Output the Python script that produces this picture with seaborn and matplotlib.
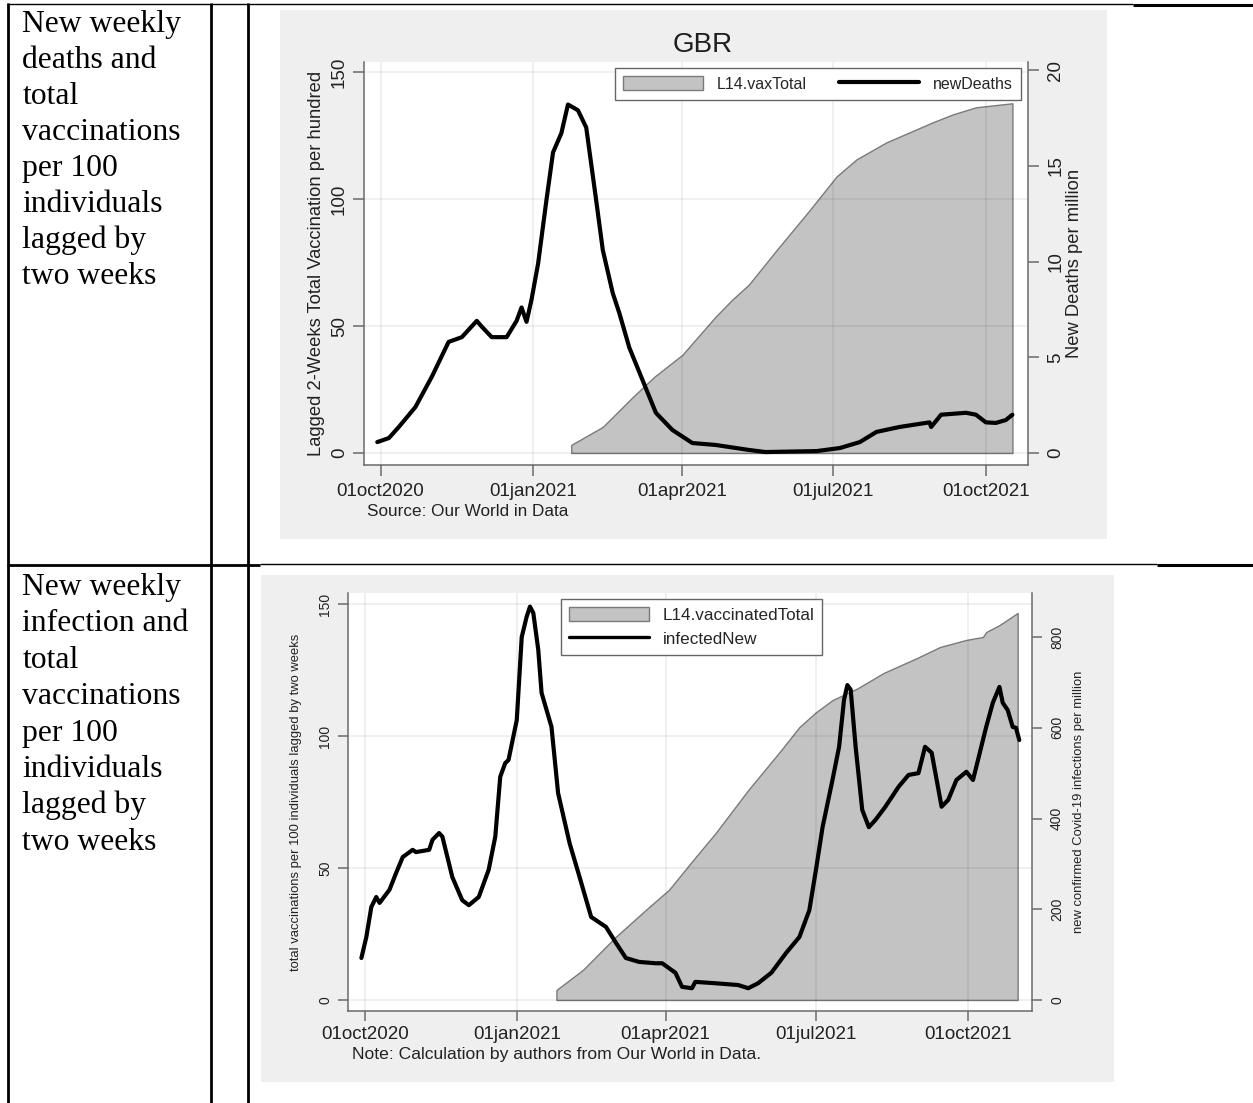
import pandas as pd
import seaborn as sns
import matplotlib.pyplot as plt
from matplotlib.patches import Rectangle, Patch
from matplotlib.lines import Line2D

W, H = 1253, 1103

# ---- donnees graphique 1 (GBR, deces) ----
vax_top_dates = ["2021-01-24", "2021-02-12", "2021-03-02", "2021-03-15", "2021-04-01",
                 "2021-04-21", "2021-05-01", "2021-05-11", "2021-05-28", "2021-06-17",
                 "2021-07-03", "2021-07-15", "2021-08-02", "2021-08-30", "2021-09-11",
                 "2021-09-25", "2021-10-17"]
vax_top_vals = [3.2, 10.3, 22, 30, 38.7, 53.7, 60.4, 66.3, 80.1, 95.9,
                109, 115.7, 122.4, 130.3, 133.4, 136.2, 137.8]

deaths_dates = ["2020-09-29", "2020-10-06", "2020-10-12", "2020-10-22", "2020-11-01",
                "2020-11-11", "2020-11-19", "2020-11-28", "2020-12-01", "2020-12-07",
                "2020-12-16", "2020-12-22", "2020-12-25", "2020-12-28", "2020-12-31",
                "2021-01-04", "2021-01-09", "2021-01-13", "2021-01-18", "2021-01-22",
                "2021-01-28", "2021-02-02", "2021-02-08", "2021-02-12", "2021-02-18",
                "2021-02-22", "2021-02-28", "2021-03-08", "2021-03-16", "2021-03-26",
                "2021-04-07", "2021-04-21", "2021-05-11", "2021-05-21", "2021-06-21",
                "2021-07-05", "2021-07-17", "2021-07-27", "2021-08-10", "2021-08-28",
                "2021-08-29", "2021-09-04", "2021-09-19", "2021-09-25", "2021-10-01",
                "2021-10-07", "2021-10-13", "2021-10-17"]
deaths_vals = [0.57, 0.78, 1.36, 2.4, 4.0, 5.8, 6.05, 6.9, 6.6, 6.05,
               6.05, 6.9, 7.6, 6.85, 8.0, 9.9, 13.2, 15.7, 16.7, 18.2,
               17.9, 17.0, 13.2, 10.6, 8.35, 7.3, 5.5, 3.8, 2.1, 1.2,
               0.52, 0.42, 0.16, 0.05, 0.1, 0.26, 0.57, 1.1, 1.36, 1.6,
               1.36, 2.0, 2.1, 2.0, 1.6, 1.57, 1.72, 2.0]

# ---- donnees graphique 2 (infections) ----
vax_bot_dates = ["2021-01-25", "2021-02-10", "2021-03-02", "2021-03-22", "2021-04-03",
                 "2021-04-19", "2021-05-01", "2021-05-21", "2021-06-10", "2021-06-21",
                 "2021-07-01", "2021-07-11", "2021-07-26", "2021-08-11", "2021-08-31",
                 "2021-09-14", "2021-09-30", "2021-10-10", "2021-10-12", "2021-10-20",
                 "2021-10-31"]
vax_bot_vals = [3.8, 11.4, 24, 35.2, 41.7, 54, 63, 79.5, 94.7, 103.4,
                109, 113.6, 118, 123.9, 129.5, 133.7, 136.4, 137.5, 139.4, 142, 146.6]

inf_dates = ["2020-09-29", "2020-10-02", "2020-10-05", "2020-10-08", "2020-10-10",
             "2020-10-16", "2020-10-20", "2020-10-24", "2020-10-30", "2020-11-01",
             "2020-11-09", "2020-11-11", "2020-11-15", "2020-11-17", "2020-11-23",
             "2020-11-29", "2020-12-03", "2020-12-09", "2020-12-15", "2020-12-19",
             "2020-12-22", "2020-12-25", "2020-12-27", "2021-01-01", "2021-01-04",
             "2021-01-07", "2021-01-09", "2021-01-11", "2021-01-14", "2021-01-16",
             "2021-01-22", "2021-01-26", "2021-02-02", "2021-02-08", "2021-02-15",
             "2021-02-24", "2021-03-02", "2021-03-08", "2021-03-16", "2021-03-26",
             "2021-03-30", "2021-04-07", "2021-04-11", "2021-04-17", "2021-04-19",
             "2021-05-01", "2021-05-15", "2021-05-21", "2021-05-27", "2021-06-04",
             "2021-06-13", "2021-06-21", "2021-06-27", "2021-07-01", "2021-07-05",
             "2021-07-11", "2021-07-15", "2021-07-18", "2021-07-20", "2021-07-22",
             "2021-07-25", "2021-07-29", "2021-08-02", "2021-08-06", "2021-08-12",
             "2021-08-20", "2021-08-26", "2021-09-01", "2021-09-05", "2021-09-09",
             "2021-09-15", "2021-09-19", "2021-09-24", "2021-09-30", "2021-10-04",
             "2021-10-06", "2021-10-12", "2021-10-16", "2021-10-20", "2021-10-22",
             "2021-10-25", "2021-10-28", "2021-10-30", "2021-11-01"]
inf_vals = [92.6, 139, 205, 227, 214, 243, 280, 315, 331, 326,
            331, 353, 368, 360, 271, 220, 209, 227, 287, 360,
            492, 522, 529, 617, 800, 845, 867, 853, 772, 677,
            602, 456, 345, 271, 183, 161, 126, 92.6, 84, 81,
            81, 60, 29, 26, 40, 37, 33, 26, 37, 60,
            104, 139, 198, 287, 381, 485, 558, 662, 694, 684,
            558, 419, 381, 397, 426, 470, 496, 500, 558, 545,
            426, 441, 485, 503, 485, 514, 602, 655, 690, 655,
            639, 602, 600, 573]

tick_dates = ["2020-10-01", "2021-01-01", "2021-04-01", "2021-07-01", "2021-10-01"]
texte_haut = ["New weekly", "deaths and", "total", "vaccinations", "per 100",
              "individuals", "lagged by", "two weeks"]
texte_bas = ["New weekly", "infection and", "total", "vaccinations", "per 100",
             "individuals", "lagged by", "two weeks"]

sns.set_theme(style="ticks")
plt.rcParams['font.family'] = ['Liberation Sans', 'DejaVu Sans']
GRIS_AXE = "#6a6a6a"
TXT = "#222222"

fig = plt.figure(figsize=(W / 100, H / 100), dpi=100)
fig.patch.set_facecolor("white")


def fx(x):
    return x / W


def fy(y):
    return 1 - y / H


def rect_px(x0, y0, x1, y1):
    return [fx(x0), fy(y1), (x1 - x0) / W, (y1 - y0) / H]


def ligne(x0, y0, x1, y1, lw):
    fig.add_artist(Line2D([fx(x0), fx(x1)], [fy(y0), fy(y1)], transform=fig.transFigure,
                          color="black", lw=lw, solid_capstyle="butt"))


# tableau
for xv in [8, 211, 248]:
    ligne(xv, 3, xv, H, 2.0)
ligne(7, 4, 1133, 4, 1.0)
ligne(1133, 5, W, 5, 2.2)
ligne(7, 565, 260, 565, 2.0)
ligne(260, 564, 1157, 564, 1.0)
ligne(1157, 565, W, 565, 2.2)

for i, t in enumerate(texte_haut):
    fig.text(fx(22.5), fy(32 + i * 36.0), t, fontsize=22.8, family=['Liberation Serif', 'DejaVu Serif'],
             va="baseline", ha="left", color="black")
for i, t in enumerate(texte_bas):
    fig.text(fx(22.5), fy(595 + i * 36.4), t, fontsize=22.8, family=['Liberation Serif', 'DejaVu Serif'],
             va="baseline", ha="left", color="black")

# fonds gris Stata
fig.add_artist(Rectangle((fx(280), fy(539)), (1107 - 280) / W, (539 - 10) / H,
                         transform=fig.transFigure, facecolor="#efefef", edgecolor="none", zorder=-1))
fig.add_artist(Rectangle((fx(261), fy(1082)), (1114 - 261) / W, (1082 - 575) / H,
                         transform=fig.transFigure, facecolor="#efefef", edgecolor="none", zorder=-1))


def habiller(ax, axr, xlim, ylim, ylim_r, yticks_r, tick_fs, tick_len, xpad, ypad, rpad):
    ax.set_xlim(pd.Timestamp("2020-10-01") + pd.Timedelta(days=xlim[0]),
                pd.Timestamp("2020-10-01") + pd.Timedelta(days=xlim[1]))
    ax.set_ylim(*ylim)
    axr.set_ylim(*ylim_r)
    td = pd.to_datetime(tick_dates)
    ax.set_xticks(td, [d.strftime("%d%b%Y").lower() for d in td])
    ax.set_yticks([0, 50, 100, 150], ["0", "50", "100", "150"], rotation=90, va="center",
                  fontsize=tick_fs[1])
    axr.set_yticks(yticks_r, [str(v) for v in yticks_r], rotation=90, va="center",
                   fontsize=tick_fs[1])
    ax.tick_params(axis="x", labelsize=tick_fs[0], length=tick_len, width=1.1, color=GRIS_AXE,
                   labelcolor=TXT, pad=xpad)
    ax.tick_params(axis="y", length=tick_len, width=1.1, color=GRIS_AXE, labelcolor=TXT, pad=ypad)
    axr.tick_params(axis="y", length=tick_len, width=1.1, color=GRIS_AXE, labelcolor=TXT, pad=rpad)
    ax.set_axisbelow(False)
    ax.grid(True, color="black", alpha=0.07, lw=1.2)
    for s in ["top", "right"]:
        ax.spines[s].set_visible(False)
    for s in ["top", "left", "bottom"]:
        axr.spines[s].set_visible(False)
    for s in ["left", "bottom"]:
        ax.spines[s].set_color(GRIS_AXE)
        ax.spines[s].set_linewidth(1.1)
    axr.spines["right"].set_color(GRIS_AXE)
    axr.spines["right"].set_linewidth(1.1)
    ax.set_xlabel("")


# ---- graphique 1 ----
ax1 = fig.add_axes(rect_px(364, 62, 1028, 465))
ax1.set_facecolor("white")
vax1 = pd.DataFrame({"date": pd.to_datetime(vax_top_dates), "vax": vax_top_vals})
ax1.fill_between(vax1["date"], 0, vax1["vax"], facecolor="#c3c3c3", edgecolor="#7a7a7a", lw=1, zorder=1)
ax1r = ax1.twinx()
morts = pd.DataFrame({"date": pd.to_datetime(deaths_dates), "newDeaths": deaths_vals})
sns.lineplot(data=morts, x="date", y="newDeaths", ax=ax1r, color="black", linewidth=3.0, estimator=None)
habiller(ax1, ax1r, (-10.0, 390.4), (-4.73, 154.06), (-0.627, 20.42), [0, 5, 10, 15, 20],
         (13.5, 13.5), 8, 5, 3.6, 6.0)
ax1.set_ylabel("Lagged 2-Weeks Total Vaccination per hundred", fontsize=13.2, color=TXT)
ax1.yaxis.set_label_coords((325 - 364) / 664, 0.5)
ax1r.set_ylabel("New Deaths per million", fontsize=13.2, color=TXT)
ax1r.yaxis.set_label_coords((1066 - 364) / 664, 0.5)
fig.text(fx(703), fy(45), "GBR", fontsize=20, ha="center", va="center", color="#1e1e1e")
fig.text(fx(367), fy(511), "Source: Our World in Data", fontsize=12.3, ha="left", va="center", color=TXT)
poignees1 = [Patch(facecolor="#c3c3c3", edgecolor="#7a7a7a", label="L14.vaxTotal"),
             Line2D([], [], color="black", lw=3, label="newDeaths")]
leg1 = ax1r.legend(handles=poignees1, ncol=2, loc="upper left", bbox_to_anchor=(fx(615), fy(68)),
                   bbox_transform=fig.transFigure, borderaxespad=0, fontsize=11.5, frameon=True,
                   fancybox=False, edgecolor="#666666", framealpha=1, handlelength=5.0,
                   handleheight=1.0, handletextpad=0.9, columnspacing=2.0, borderpad=0.5)
leg1.get_frame().set_linewidth(1.0)

# ---- graphique 2 ----
ax2 = fig.add_axes(rect_px(348, 593, 1032, 1011))
ax2.set_facecolor("white")
vax2 = pd.DataFrame({"date": pd.to_datetime(vax_bot_dates), "vax": vax_bot_vals})
ax2.fill_between(vax2["date"], 0, vax2["vax"], facecolor="#c3c3c3", edgecolor="#7a7a7a", lw=1, zorder=1)
ax2r = ax2.twinx()
infect = pd.DataFrame({"date": pd.to_datetime(inf_dates), "infectedNew": inf_vals})
sns.lineplot(data=infect, x="date", y="infectedNew", ax=ax2r, color="black", linewidth=3.0, estimator=None)
habiller(ax2, ax2r, (-10.1, 403.7), (-4.17, 154.17), (-24.2, 897.0), [0, 200, 400, 600, 800],
         (13.5, 10.0), 7, 4.0, 4.5, 6.0)
ax2.set_ylabel("total vaccinations per 100 individuals lagged by two weeks", fontsize=9.4, color=TXT)
ax2.yaxis.set_label_coords((302 - 348) / 684, 0.5)
ax2r.set_ylabel("new confirmed Covid-19 infections per million", fontsize=9.4, color=TXT)
ax2r.yaxis.set_label_coords((1073 - 348) / 684, 0.5)
fig.text(fx(352), fy(1054), "Note: Calculation by authors from Our World in Data.", fontsize=12.6,
         ha="left", va="center", color=TXT)
poignees2 = [Patch(facecolor="#c3c3c3", edgecolor="#7a7a7a", label="L14.vaccinatedTotal"),
             Line2D([], [], color="black", lw=2.4, label="infectedNew")]
leg2 = ax2r.legend(handles=poignees2, ncol=1, loc="upper left", bbox_to_anchor=(fx(561), fy(599)),
                   bbox_transform=fig.transFigure, borderaxespad=0, fontsize=12.3, frameon=True,
                   fancybox=False, edgecolor="#666666", framealpha=1, handlelength=4.7,
                   handleheight=0.95, handletextpad=0.8, labelspacing=0.45, borderpad=0.45)
leg2.get_frame().set_linewidth(1.0)

fig.savefig("out.png", dpi=100)
